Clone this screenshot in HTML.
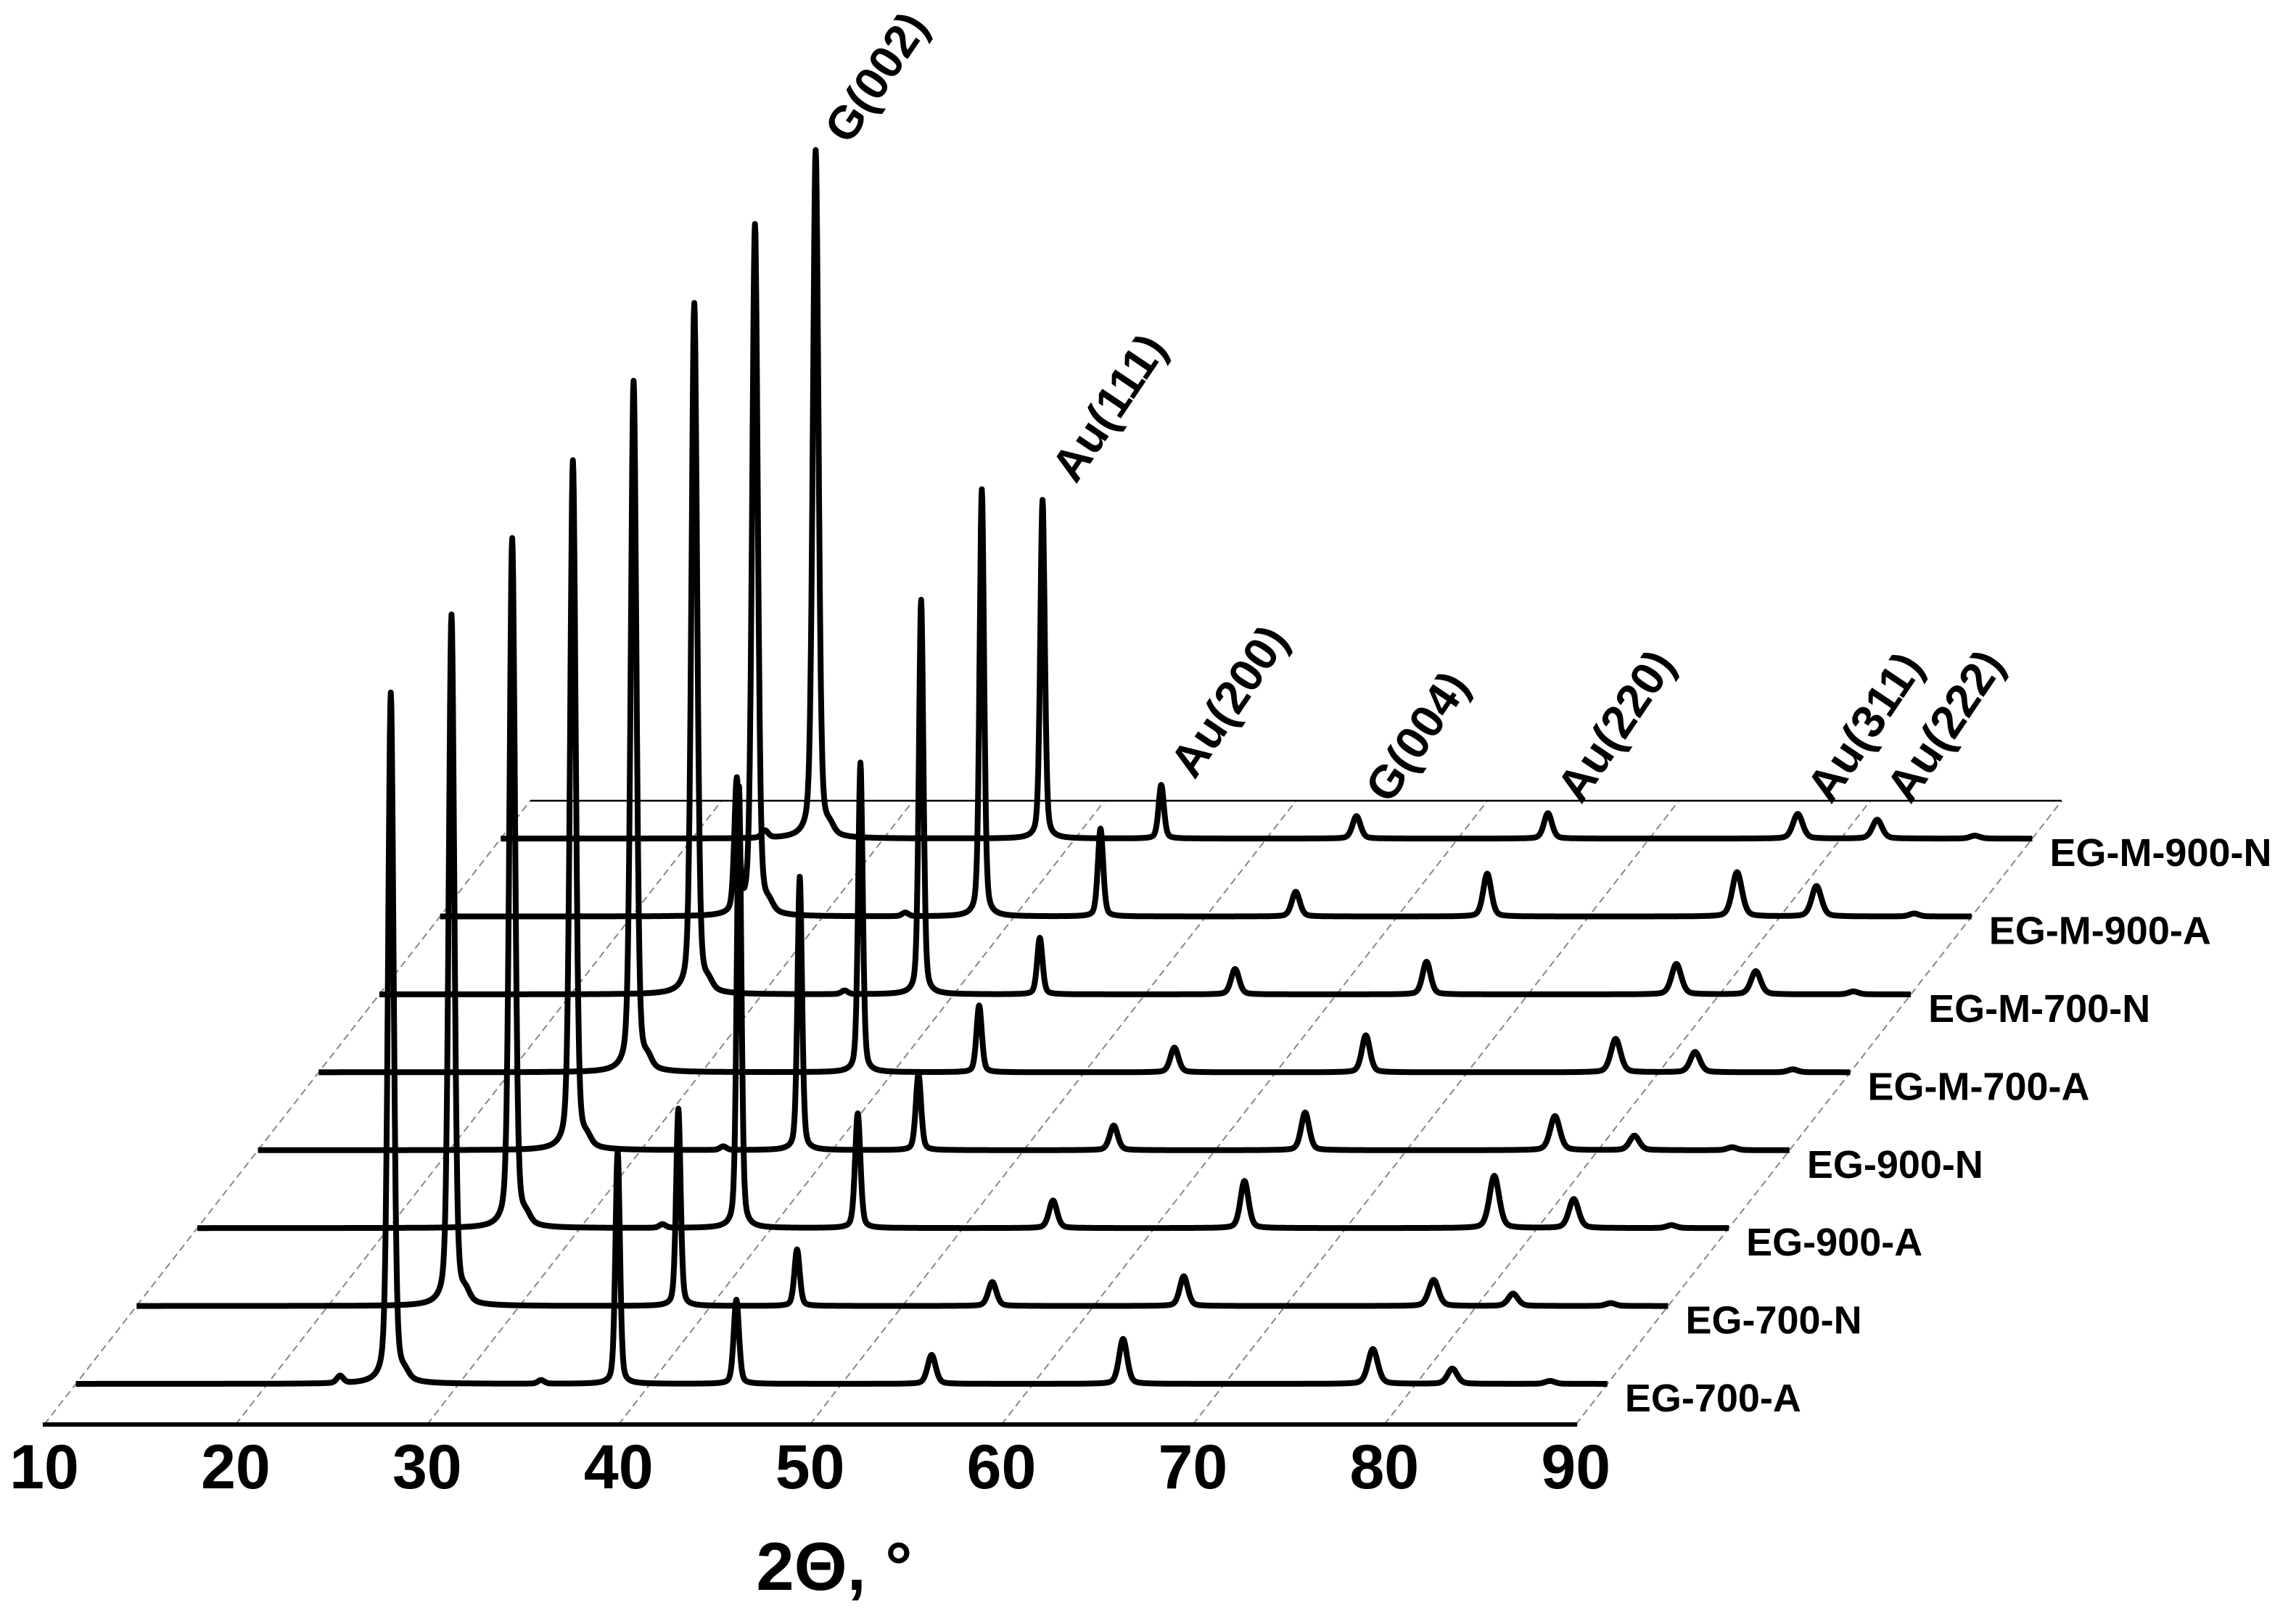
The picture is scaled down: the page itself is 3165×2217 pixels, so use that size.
<!DOCTYPE html>
<html>
<head>
<meta charset="utf-8">
<style>
html,body{margin:0;padding:0;background:#fff;}
svg{display:block;}
text{font-family:"Liberation Sans",sans-serif;font-weight:bold;fill:#000;}
</style>
</head>
<body>
<svg id="chart" width="3165" height="2217" viewBox="0 0 3165 2217" xmlns="http://www.w3.org/2000/svg">
  <g id="grid"></g>
  <g id="axis"></g>
  <g id="traces"></g>
  <g id="rowlabels"></g>
  <g id="peaklabels"></g>
  <text x="1150" y="2192" font-size="94" text-anchor="middle">2Θ, °</text>
</svg>
<script>
// ---- data ----
const seriesNames = ["EG-700-A","EG-700-N","EG-900-A","EG-900-N","EG-M-700-A","EG-M-700-N","EG-M-900-A","EG-M-900-N"];
const peakPositions = [23.8, 25.5, 26.45, 27.2, 34.3, 38.3, 44.5, 54.7, 64.7, 77.75, 81.9, 87.0];
const peakWidths    = [0.4, 0.3, 0.35, 0.5, 0.4, 0.28, 0.33, 0.5, 0.5, 0.6, 0.6, 0.6];
const s0 = [10, 0, 953, 8, 5, 321, 116, 40, 62, 48, 21, 4];
const s1 = [0, 0, 953, 12, 0, 272, 78, 33, 41, 36, 17, 4];
const s2 = [0, 0, 951, 10, 5, 609, 158, 38, 65, 72, 40, 4];
const s3 = [0, 0, 951, 10, 5, 377, 105, 34, 52, 47, 20, 4];
const s4 = [0, 0, 953, 12, 0, 427, 92, 34, 51, 46, 28, 4];
const s5 = [0, 0, 953, 10, 5, 544, 78, 35, 45, 42, 32, 4];
const s6 = [0, 181, 953, 10, 5, 589, 121, 34, 59, 61, 42, 4];
const s7 = [10, 0, 949, 10, 0, 467, 74, 31, 35, 34, 26, 4];
const seriesIntensities = [s0, s1, s2, s3, s4, s5, s6, s7];
const xTicks = [10, 20, 30, 40, 50, 60, 70, 80, 90];
const peakLabelNames = ["G(002)","Au(111)","Au(200)","G(004)","Au(220)","Au(311)","Au(222)"];
const peakLabelAngles = [26.45, 38.3, 44.5, 54.7, 64.7, 77.75, 81.9];

// ---- geometry ----
const NS = "http://www.w3.org/2000/svg";
const X0 = 61, PXDEG = 26.39, AXY = 1964, ROW0Y = 1908, ROWDY = 107.4, SLANT = 0.779;
const TOPY = 1104;
function xScale(deg, y){ return X0 + (deg - 10) * PXDEG + (AXY - y) * SLANT; }
function rowY(i){ return ROW0Y - i * ROWDY; }
function el(tag, attrs, parent){
  const e = document.createElementNS(NS, tag);
  for (const k in attrs) e.setAttribute(k, attrs[k]);
  parent.appendChild(e);
  return e;
}

// grid diagonals
const grid = document.getElementById("grid");
xTicks.forEach(t => {
  const g = el("line", {x1: xScale(t, AXY), y1: AXY, x2: xScale(t, TOPY), y2: TOPY, stroke: "#888", "stroke-width": 2, "stroke-dasharray": "10,6"}, grid);
  
  
});
const topLine = el("line", {x1: xScale(10, TOPY), y1: TOPY, x2: xScale(90, TOPY), y2: TOPY, stroke: "#000", "stroke-width": 2.5}, grid);



// axis
const axis = document.getElementById("axis");
const axLine = el("line", {x1: xScale(10, AXY) - 2, y1: AXY, x2: xScale(90, AXY) + 2, y2: AXY, stroke: "#000", "stroke-width": 6}, axis);


xTicks.forEach(t => {
  const tx = el("text", {x: xScale(t, AXY), y: 2052, "font-size": 86, "text-anchor": "middle"}, axis);
  tx.textContent = String(t);
  
  
});

// traces (back to front)
const traces = document.getElementById("traces");
const rowLabels = document.getElementById("rowlabels");
for (let i = seriesIntensities.length - 1; i >= 0; i--) {
  const y0 = rowY(i);
  const ints = seriesIntensities[i];
  let d = "";
  for (let a = 10; a <= 90.0001; a += 0.025) {
    let v = 0;
    for (let p = 0; p < peakPositions.length; p++) {
      const hw = peakWidths[p] / 2;
      const u = (a - peakPositions[p]) / hw;
      v += ints[p] * (0.35 / (1 + u * u) + 0.65 * Math.exp(-0.693 * u * u));
    }
    const px = xScale(a, y0), py = y0 - v;
    d += (d ? "L" : "M") + px.toFixed(1) + "," + py.toFixed(1);
  }
  const path = el("path", {d: d, fill: "none", stroke: "#000", "stroke-width": 8, "stroke-linejoin": "round"}, traces);
  
  
  const lb = el("text", {x: xScale(90, y0) + 24, y: y0 + 38, "font-size": 54}, rowLabels);
  lb.textContent = seriesNames[i];
  
  
}

// peak labels
const pl = document.getElementById("peaklabels");
const topRow = seriesIntensities.length - 1;
peakLabelAngles.forEach((ang, k) => {
  const p = peakPositions.indexOf(ang);
  let h = 0;
  seriesIntensities.forEach((s, i) => { h = Math.max(h, s[p] - (topRow - i) * ROWDY); });
  const y = rowY(topRow) - Math.max(h, 40) - 6;
  const x = xScale(ang, rowY(topRow)) + 46;
  const t = el("text", {x: x, y: y, "font-size": 64, transform: "rotate(-56 " + x + " " + y + ")"}, pl);
  t.textContent = peakLabelNames[k];
  
  
});
</script>
</body>
</html>
